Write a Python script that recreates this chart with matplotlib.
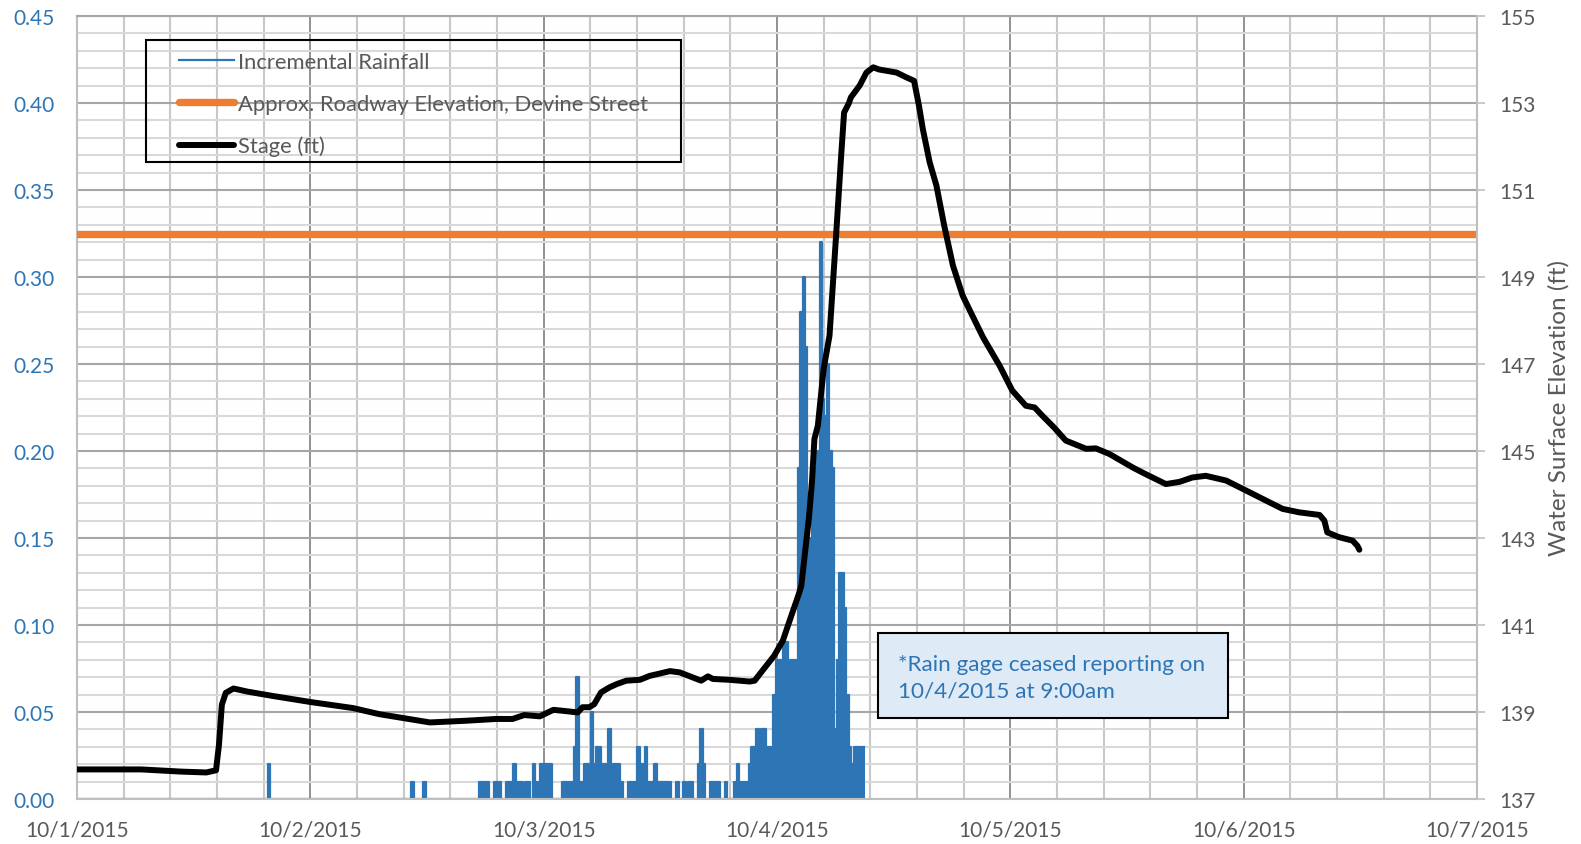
import numpy as np
import matplotlib.pyplot as plt
from matplotlib.lines import Line2D
from matplotlib.patches import Rectangle
from matplotlib.ticker import MultipleLocator, FormatStrFormatter

plt.rcParams['font.family'] = ['Lato', 'DejaVu Sans']

W, H = 1581, 845

day_labels = ['10/1/2015', '10/2/2015', '10/3/2015', '10/4/2015',
              '10/5/2015', '10/6/2015', '10/7/2015']

# rain gage, 15-minute increments (in); hours after midnight 10/1/2015
rain_hours = [19.75, 34.5, 35.75,
              41.5, 41.75, 42.0, 42.25, 43.0, 43.25, 43.5,
              44.25, 44.5, 44.75, 45.0, 45.25, 45.5, 45.75, 46.25, 46.5,
              47.0, 47.25, 47.75, 48.0, 48.25, 48.5, 48.75,
              50.0, 50.25, 50.5, 50.75, 51.25, 51.5, 51.75, 52.0, 52.25, 52.5,
              52.75, 53.0, 53.25, 53.5, 53.75, 54.0, 54.25, 54.5, 54.75, 55.0,
              55.25, 55.5, 55.75, 56.0, 56.75, 57.0, 57.25, 57.5, 57.75, 58.0,
              58.25, 58.5, 58.75, 59.0, 59.25, 59.5, 59.75, 60.0, 60.25, 60.5,
              60.75, 61.0, 61.75, 62.5, 63.0, 63.25, 64.0, 64.25, 64.5,
              65.25, 65.5, 65.75, 66.0, 66.75, 67.75, 68.0, 68.25, 68.5, 68.75,
              69.0, 69.25, 69.5, 69.75, 70.0, 70.25, 70.5, 70.75, 71.0, 71.25,
              71.5, 71.75, 72.0, 72.25, 72.5, 72.75, 73.0, 73.25, 73.5, 73.75,
              74.0, 74.25, 74.5, 74.75, 75.0, 75.25, 75.5, 75.75, 76.0, 76.25,
              76.5, 76.75, 77.0, 77.25, 77.5, 77.75, 78.0, 78.25, 78.5, 78.75,
              79.0, 79.25, 79.5, 79.75, 80.0, 80.25, 80.5, 80.75, 81.0]
rain_in = [0.02, 0.01, 0.01,
           0.01, 0.01, 0.01, 0.01, 0.01, 0.01, 0.01,
           0.01, 0.01, 0.01, 0.02, 0.01, 0.01, 0.01, 0.01, 0.01,
           0.02, 0.01, 0.02, 0.02, 0.02, 0.02, 0.02,
           0.01, 0.01, 0.01, 0.01, 0.03, 0.07, 0.01, 0.01, 0.02, 0.02,
           0.01, 0.05, 0.02, 0.03, 0.03, 0.02, 0.02, 0.01, 0.04, 0.01,
           0.02, 0.02, 0.02, 0.01, 0.01, 0.01, 0.01, 0.01, 0.03, 0.02,
           0.02, 0.03, 0.01, 0.01, 0.01, 0.02, 0.01, 0.01, 0.01, 0.01,
           0.01, 0.01, 0.01, 0.01, 0.01, 0.01, 0.02, 0.04, 0.02,
           0.01, 0.01, 0.01, 0.01, 0.01, 0.01, 0.02, 0.01, 0.01, 0.01,
           0.01, 0.02, 0.03, 0.03, 0.04, 0.03, 0.04, 0.04, 0.03, 0.03,
           0.02, 0.06, 0.08, 0.08, 0.05, 0.09, 0.09, 0.05, 0.08, 0.08,
           0.08, 0.19, 0.28, 0.30, 0.26, 0.15, 0.14, 0.19, 0.19, 0.20,
           0.32, 0.23, 0.22, 0.25, 0.20, 0.19, 0.04, 0.08, 0.13, 0.13,
           0.11, 0.06, 0.03, 0.02, 0.03, 0.03, 0.03, 0.03, 0.03]
gage_end_hour = 81.0

# stage at the Devine Street gage (ft)
stage_hours = [0.0, 6.6, 10.7, 13.3, 14.3, 14.6, 14.9, 15.3, 16.1, 17.5,
               20.1, 24.0, 28.4, 31.1, 36.3, 40.1, 43.1, 44.8, 46.0, 47.6,
               49.0, 50.3, 51.5, 52.0, 52.7, 53.2, 53.9, 54.8, 55.5, 56.5,
               57.9, 58.9, 61.0, 62.0, 64.2, 64.9, 65.4, 67.1, 69.2, 69.7,
               70.5, 71.7, 72.6, 73.3, 74.3, 74.5, 75.0, 75.3, 75.6, 75.85,
               76.2, 76.8, 77.4, 78.1, 78.6, 78.9, 79.4, 79.6, 80.5, 81.2,
               81.9, 82.5, 84.3, 85.3, 86.1, 86.6, 87.0, 87.7, 88.4, 89.2,
               90.1, 91.1, 92.1, 93.2, 94.9, 96.2, 97.6, 98.5, 99.3, 100.5,
               101.7, 103.8, 104.8, 106.2, 108.6, 109.9, 112.0, 113.4, 114.7,
               116.1, 118.2, 119.9, 122.3, 124.0, 125.7, 127.8, 128.3, 128.6,
               129.8, 131.2, 131.7, 131.9]
stage_ft = [137.68, 137.68, 137.63, 137.61, 137.66, 138.24, 139.17, 139.44,
            139.54, 139.47, 139.37, 139.23, 139.09, 138.95, 138.76, 138.80,
            138.84, 138.84, 138.93, 138.90, 139.05, 139.02, 138.99, 139.11,
            139.11, 139.18, 139.45, 139.57, 139.64, 139.72, 139.74, 139.83,
            139.94, 139.91, 139.72, 139.82, 139.76, 139.74, 139.70, 139.72,
            139.95, 140.29, 140.64, 141.10, 141.75, 141.90, 142.90, 143.50,
            144.30, 145.28, 145.58, 146.89, 147.65, 150.03, 151.79, 152.78,
            153.00, 153.13, 153.40, 153.70, 153.82, 153.77, 153.70, 153.59,
            153.51, 152.94, 152.40, 151.64, 151.10, 150.18, 149.26, 148.57,
            148.11, 147.61, 146.96, 146.39, 146.04, 146.00, 145.81, 145.54,
            145.24, 145.05, 145.06, 144.93, 144.62, 144.47, 144.24, 144.29,
            144.39, 144.43, 144.32, 144.13, 143.86, 143.67, 143.59, 143.53,
            143.40, 143.13, 143.02, 142.94, 142.82, 142.73]
roadway_ft = 150.0

BLUE = '#2E75B6'
ORANGE = '#ED7D31'
GREY_TXT = '#595959'

# full 15-minute rain record, zero where nothing was recorded
t15 = np.arange(0, gage_end_hour + 0.125, 0.25)
rain = np.zeros_like(t15)
rain[np.rint(np.array(rain_hours) * 4).astype(int)] = rain_in
rain_days = t15 / 24
stage_days = np.array(stage_hours) / 24

fig = plt.figure(figsize=(W / 100, H / 100), dpi=100)
ax = fig.add_axes([77 / W, 45 / H, 1400 / W, 783 / H])
ax2 = ax.twinx()

# primary axis: rainfall and the grid
ax.set_xlim(0, 6)
ax.set_ylim(0, 0.45)
ax.set_xticks(range(len(day_labels)), day_labels)
ax.xaxis.set_minor_locator(MultipleLocator(0.2))
ax.yaxis.set_major_locator(MultipleLocator(0.05))
ax.yaxis.set_minor_locator(MultipleLocator(0.01))
ax.yaxis.set_major_formatter(FormatStrFormatter('%.2f'))
ax.grid(which='minor', axis='y', color='#D9D9D9', lw=1.5)
ax.grid(which='major', axis='y', color='#A6A6A6', lw=1.5)
ax.grid(which='minor', axis='x', color='#C8C8C8', lw=1.5)
ax.grid(which='major', axis='x', color='#7F7F7F', lw=1.2)
ax.set_axisbelow(True)
ax.tick_params(which='both', length=0)
ax.tick_params(axis='x', labelsize=15, labelcolor=GREY_TXT, pad=15)
ax.tick_params(axis='y', labelsize=15, labelcolor=BLUE, pad=16)
for side in ('left', 'bottom'):
    ax.spines[side].set_color('#BFBFBF')
    ax.spines[side].set_linewidth(1.5)
ax.spines['top'].set_color('#A6A6A6')
ax.spines['top'].set_linewidth(1.5)
ax.spines['right'].set_visible(False)

ax.fill_between(rain_days, rain, step='mid', color=BLUE, lw=0)
ax.plot(rain_days, rain, color=BLUE, lw=1.6, drawstyle='steps-mid')

# secondary axis: water surface elevation
ax2.set_ylim(137, 155)
ax2.set_yticks(range(137, 156, 2))
ax2.tick_params(axis='y', direction='out', length=6, width=1.2, color='#BFBFBF',
                labelsize=15, labelcolor=GREY_TXT, pad=10)
for side in ('left', 'top', 'bottom'):
    ax2.spines[side].set_visible(False)
ax2.spines['right'].set_color('#BFBFBF')
ax2.spines['right'].set_linewidth(1.5)
ax2.set_ylabel('Water Surface Elevation (ft)', color=GREY_TXT, fontsize=17.5,
               labelpad=9)

ax2.axhline(roadway_ft, color=ORANGE, lw=5.3)
ax2.plot(stage_days, stage_ft, color='black', lw=4.3,
         solid_joinstyle='round', solid_capstyle='round')

# legend with a square black frame
handles = [Line2D([], [], color=BLUE, lw=1.6),
           Line2D([], [], color=ORANGE, lw=5.3, solid_capstyle='round'),
           Line2D([], [], color='black', lw=4.3, solid_capstyle='round')]
labels = ['Incremental Rainfall', 'Approx. Roadway Elevation, Devine Street',
          'Stage (ft)']
leg = fig.legend(handles, labels, loc='upper left',
                 bbox_to_anchor=(179 / W, 1 - 53 / H), frameon=False,
                 fontsize=15.8, handlelength=2.5, handletextpad=0.2,
                 labelspacing=1.0, borderpad=0, borderaxespad=0)
for txt in leg.get_texts():
    txt.set_color(GREY_TXT)
fig.add_artist(Rectangle((146 / W, 1 - 163 / H), 535 / W, 122 / H,
                         transform=fig.transFigure, fill=False,
                         ec='black', lw=1.5))

# note about the rain gage
fig.add_artist(Rectangle((878 / W, 1 - 719 / H), 350 / W, 85 / H,
                         transform=fig.transFigure, fc='#DEEBF7',
                         ec='black', lw=1.5))
fig.text(898 / W, 1 - 678 / H,
         '*Rain gage ceased reporting on\n10/4/2015 at 9:00am',
         color=BLUE, fontsize=16.2, ha='left', va='center', linespacing=1.4)

fig.savefig('out.png', dpi=100)
